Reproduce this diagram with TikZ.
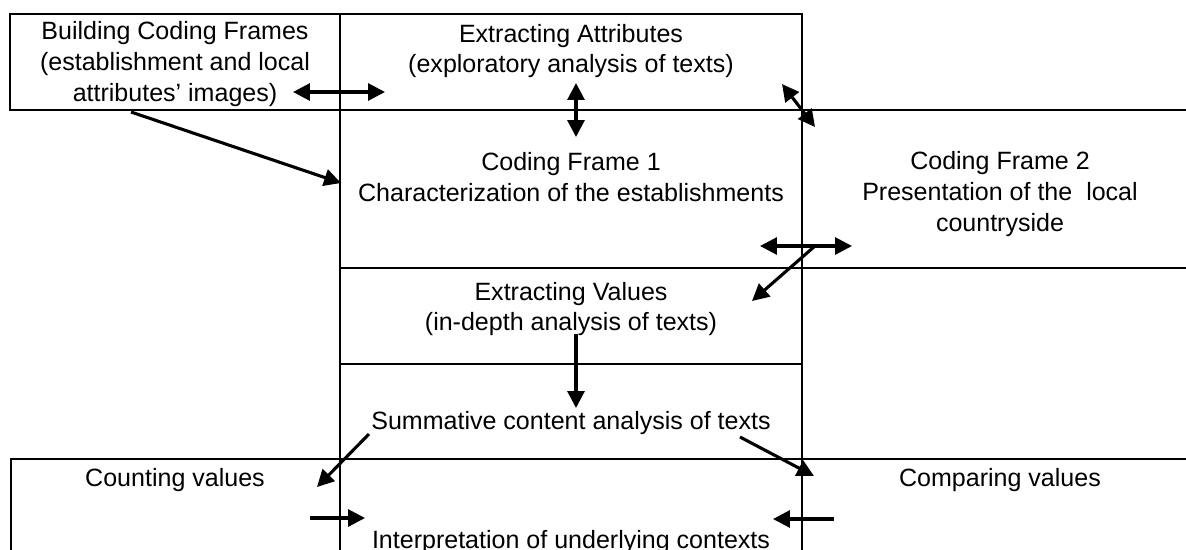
\documentclass[tikz,border=0pt]{standalone}
\usepackage{fontspec}
\setmainfont{Liberation Sans}
\usetikzlibrary{arrows.meta}

\begin{document}
\begin{tikzpicture}[
    x=0.025cm, y=-0.025cm,
    rule/.style={line width=1.4pt, line cap=rect},
    every node/.style={font=\fontsize{17.8}{22}\selectfont, align=center, inner sep=0pt},
    oneway/.style={line width=2.2pt, -{Triangle[length=12pt, width=12pt]}},
    twoway/.style={line width=2.2pt, {Triangle[length=12pt, width=12pt]}-{Triangle[length=12pt, width=12pt]}}
]
   \useasboundingbox (0,0) rectangle (1186,549);

   % Table lines
   \draw[rule] (10,14) rectangle (340,110);
   \draw[rule] (340,14) -- (802,14);
   \draw[rule] (340,14) -- (340,549);
   \draw[rule] (802,14) -- (802,549);
   \draw[rule] (340,110) -- (1186,110);
   \draw[rule] (340,268) -- (1186,268);
   \draw[rule] (340,364) -- (802,364);
   \draw[rule] (11,549) -- (11,459) -- (1186,459);

   % Cell texts
   \node (build) at (175,64) {Building Coding Frames\\(establishment and local\\attributes’ images)};
   \node (attr)  at (571,51) {Extracting Attributes\\(exploratory analysis of texts)};
   \node (cf1)   at (571,177) {Coding Frame 1\\Characterization of the establishments};
   \node (cf2)   at (1000,194) {Coding Frame 2\\Presentation of the\ \ local\\countryside};
   \node (vals)  at (571,309) {Extracting Values\\(in-depth analysis of texts)};
   \node (summ)  at (571,423) {Summative content analysis of texts};
   \node (count) at (175,480) {Counting values};
   \node (comp)  at (1000,480) {Comparing values};
   \node (interp) at (571,542) {Interpretation of underlying contexts};

   % Arrow ends
   \coordinate (buildL) at (293,92);
   \coordinate (buildR) at (385,92);
   \coordinate (buildD) at (131,112);
   \coordinate (cfA)    at (341,183);
   \coordinate (attrD)  at (576,83);
   \coordinate (cfB)    at (576,137);
   \coordinate (attrR)  at (782,84);
   \coordinate (cfC)    at (815,127);
   \coordinate (cfL)    at (760,246);
   \coordinate (cfR)    at (852,246);
   \coordinate (cfS)    at (815,246);
   \coordinate (valsR)  at (752,301);
   \coordinate (valsD)  at (576,334);
   \coordinate (summU)  at (576,408);
   \coordinate (summL)  at (369,434);
   \coordinate (countR) at (317,487);
   \coordinate (summR)  at (740,437);
   \coordinate (compL)  at (814,476);
   \coordinate (countA) at (310,518);
   \coordinate (interpL) at (365,518);
   \coordinate (compA)  at (834,519);
   \coordinate (interpR) at (773,519);

   % Arrows
   \path
   (buildL) edge[twoway] (buildR)
   (buildD) edge[oneway] (cfA)
   (attrD)  edge[twoway] (cfB)
   (attrR)  edge[twoway] (cfC)
   (cfL)    edge[twoway] (cfR)
   (cfS)    edge[oneway] (valsR)
   (valsD)  edge[oneway] (summU)
   (summL)  edge[oneway] (countR)
   (summR)  edge[oneway] (compL)
   (countA) edge[oneway] (interpL)
   (compA)  edge[oneway] (interpR);
\end{tikzpicture}
\end{document}
